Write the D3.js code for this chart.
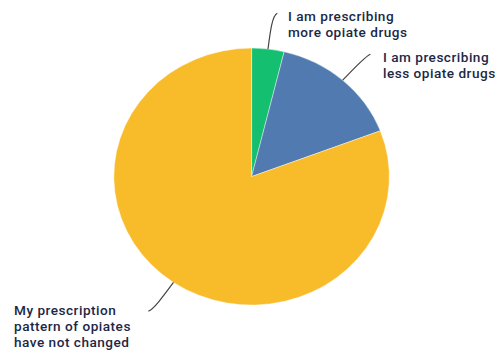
<!DOCTYPE html>
<html><head><meta charset="utf-8">
<script src="https://cdn.jsdelivr.net/npm/d3@7/dist/d3.min.js"></script>
<style>body{margin:0;background:#fff}svg{display:block}</style>
</head><body>
<script>
const categories = ["I am prescribing more opiate drugs", "I am prescribing less opiate drugs", "My prescription pattern of opiates have not changed"];
const values = [3.8, 15.4, 80.8];
const colors = ["#15bf70", "#517bb0", "#f8bc2b"];
const labelLines = [["I am prescribing", "more opiate drugs"], ["I am prescribing", "less opiate drugs"], ["My prescription", "pattern of opiates", "have not changed"]];

const W = 504, H = 354;
const cx = 251.6, cy = 176.6, r = 128.5, sx = 1.072;
const svg = d3.select("body").append("svg").attr("width", W).attr("height", H);

const pie = d3.pie().sort(null).value(d => d)(values);
const arc = d3.arc().innerRadius(0).outerRadius(r);

const g = svg.append("g").attr("transform", `translate(${cx},${cy}) scale(${sx},1)`);
g.selectAll("path").data(pie).join("path")
  .attr("d", arc).attr("fill", (d, i) => colors[i])
  .attr("stroke", "#fff").attr("stroke-width", 0.4);

function pt(a, rr) { return [cx + Math.sin(a) * rr * sx, cy - Math.cos(a) * rr]; }

const labelPos = [
  {x: 288, y: 20.5, dir: 1},
  {x: 383, y: 61.5, dir: 1},
  {x: 14, y: 315, dir: -1}
];
const lead = [34, 32, 33];

pie.forEach((d, i) => {
  const a = (d.startAngle + d.endAngle) / 2;
  const p0 = pt(a, r);
  const p1 = pt(a, r + lead[i] * 0.55);
  const p2 = pt(a, r + lead[i]);
  const p3 = [p2[0] + labelPos[i].dir * 5, p2[1] + (a > Math.PI ? 1.5 : -2)];
  svg.append("path")
    .attr("d", `M${p0[0]},${p0[1]} C${p1[0]},${p1[1]} ${p2[0]},${p2[1]} ${p3[0]},${p3[1]}`)
    .attr("fill", "none").attr("stroke", "#444").attr("stroke-width", 1.2);
  labelLines[i].forEach((s, j) => {
    svg.append("text")
      .attr("x", labelPos[i].x).attr("y", labelPos[i].y + j * 16)
      .attr("font-family", "Roboto, sans-serif").attr("font-size", 13.6)
      .attr("letter-spacing", 0.5)
      .attr("font-weight", 500).attr("fill", "#1c2846")
      .text(s);
  });
});
</script>
</body></html>
